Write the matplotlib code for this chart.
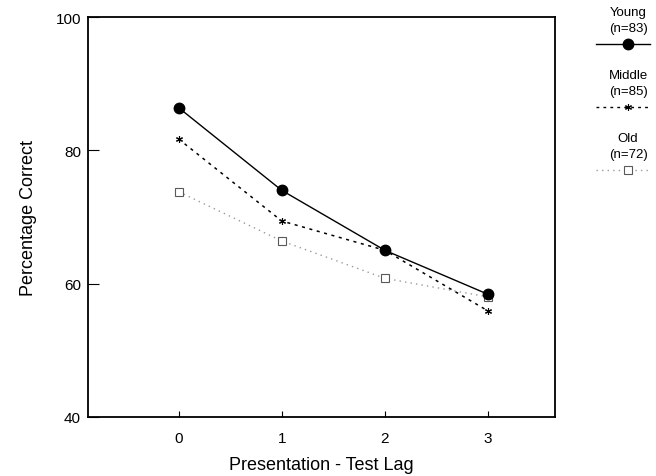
import numpy as np
import matplotlib.pyplot as plt
from matplotlib.lines import Line2D

plt.rcParams['font.family'] = ['Liberation Sans', 'DejaVu Sans']

# data
lag = [0, 1, 2, 3]
young = [86.4, 74.0, 65.0, 58.4]
middle = [81.7, 69.4, 65.0, 55.9]
old = [73.8, 66.4, 60.8, 58.0]
groups = ['Young', 'Middle', 'Old']
sizes = [83, 85, 72]

fig = plt.figure(figsize=(6.56, 4.77), dpi=100)
ax = fig.add_axes([0.134, 0.124, 0.712, 0.838])

star = (6, 2, 0)  # asterisk

# series
ax.plot(lag, old, color='0.6', ls=(0, (1, 3)), lw=1.0, marker='s', ms=6,
        mfc='white', mec='0.35', mew=0.8)
ax.plot(lag, middle, color='k', ls=(0, (2, 3)), lw=1.1, marker=star, ms=5,
        mfc='none', mec='k', mew=0.8)
ax.plot(lag, young, color='k', ls='-', lw=1.0, marker='o', ms=7.5,
        mfc='k', mec='k')

ax.set_xlim(-0.88, 3.65)
ax.set_ylim(40, 100)
ax.set_xticks(lag)
ax.set_yticks([40, 60, 80, 100])
ax.tick_params(axis='y', direction='in', length=8, width=0.8, labelsize=11, pad=5)
ax.tick_params(axis='x', direction='in', length=4, width=0.8, labelsize=11, pad=10)
for s in ax.spines.values():
    s.set_linewidth(1.3)

ax.set_xlabel('Presentation - Test Lag', fontsize=13, labelpad=8)
ax.set_ylabel('Percentage Correct', fontsize=13, labelpad=13)

# legend outside on the right
styles = [dict(color='k', ls='-', lw=1.0, marker='o', ms=7.5, mfc='k', mec='k'),
          dict(color='k', ls=(0, (2, 3)), lw=1.0, marker=star, ms=5, mfc='none', mec='k', mew=0.8),
          dict(color='0.6', ls=(0, (1, 3)), lw=1.0, marker='s', ms=6, mfc='white', mec='0.35', mew=0.8)]
xc = 628 / 656
for k, (g, n, st) in enumerate(zip(groups, sizes, styles)):
    y0 = 1 - (13 + 63 * k) / 477
    fig.text(xc, y0, g, ha='center', va='center', fontsize=9.5)
    fig.text(xc, y0 - 16 / 477, f'(n={n})', ha='center', va='center', fontsize=9.5)
    yl = y0 - 32 / 477
    fig.add_artist(Line2D([596 / 656, 650 / 656], [yl, yl], transform=fig.transFigure, **{k2: v for k2, v in st.items() if not k2.startswith('m')}))
    fig.add_artist(Line2D([xc], [yl], transform=fig.transFigure, ls='none', **{k2: v for k2, v in st.items() if k2.startswith('m')}))

plt.savefig('out.png', dpi=100)
